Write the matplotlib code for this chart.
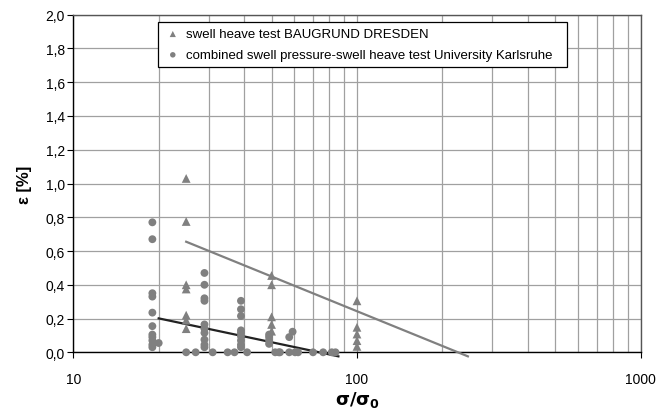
import matplotlib
matplotlib.use("Agg")
import matplotlib.pyplot as plt
from matplotlib.ticker import FixedLocator, NullFormatter, FuncFormatter, LogLocator

plt.rcParams['font.family'] = ['Liberation Sans', 'DejaVu Sans']

# Swell heave test BAUGRUND DRESDEN (triangles)
dresden_x = [25, 25, 25, 25, 25, 25, 25,
             50, 50, 50, 50, 50,
             100, 100, 100, 100, 100]
dresden_y = [1.03, 0.775, 0.40, 0.375, 0.22, 0.19, 0.14,
             0.455, 0.40, 0.21, 0.165, 0.125,
             0.305, 0.148, 0.108, 0.069, 0.035]

# Combined swell pressure-swell heave test University Karlsruhe (circles)
karlsruhe_x = [19, 19, 19, 19, 19, 19, 19, 19, 19, 19, 19,
               20, 25, 27,
               29, 29, 29, 29, 29, 29, 29, 29, 29, 29,
               31, 35, 37,
               39, 39, 39, 39, 39, 39, 39, 39, 39,
               41,
               49, 49, 49, 49,
               51.5, 53, 53.5,
               57.7, 57.7, 59.3, 60.5, 62,
               70, 76, 81.5, 84]
karlsruhe_y = [0.77, 0.67, 0.35, 0.33, 0.235, 0.155, 0.105, 0.09, 0.07, 0.045, 0.03,
               0.055, 0.0, 0.0,
               0.47, 0.40, 0.32, 0.305, 0.165, 0.14, 0.115, 0.075, 0.045, 0.03,
               0.0, 0.0, 0.0,
               0.305, 0.255, 0.215, 0.13, 0.115, 0.095, 0.07, 0.045, 0.03,
               0.0,
               0.105, 0.09, 0.07, 0.05,
               0.0, 0.0, 0.0,
               0.09, 0.0, 0.122, 0.0, 0.0,
               0.0, 0.0, 0.0, 0.0]

# Regression lines (end points)
dresden_fit_x = [25, 246]
dresden_fit_y = [0.655, -0.024]
karlsruhe_fit_x = [20, 86]
karlsruhe_fit_y = [0.201, -0.024]

y_ticks = [0.0, 0.2, 0.4, 0.6, 0.8, 1.0, 1.2, 1.4, 1.6, 1.8, 2.0]
x_ticks = [10, 100, 1000]

fig = plt.figure(figsize=(6.59, 4.10), dpi=100)
ax = fig.add_axes([0.1112, 0.1383, 0.8610, 0.8234])

ax.set_xscale('log')
ax.set_xlim(10, 1000)
ax.set_ylim(0, 2.0)

grid_c = '#a0a0a0'
ax.xaxis.set_major_locator(FixedLocator(x_ticks))
ax.xaxis.set_minor_locator(LogLocator(base=10, subs=range(2, 10)))
ax.xaxis.set_minor_formatter(NullFormatter())
ax.xaxis.set_major_formatter(FuncFormatter(lambda v, p: f"{int(v)}"))
ax.set_yticks(y_ticks)
ax.yaxis.set_major_formatter(FuncFormatter(lambda v, p: f"{v:.1f}".replace('.', ',')))

ax.grid(True, which='major', axis='both', color=grid_c, linewidth=0.9)
ax.grid(True, which='minor', axis='x', color=grid_c, linewidth=0.9)
ax.set_axisbelow(True)

ax.tick_params(axis='x', which='minor', length=0)
ax.tick_params(axis='x', which='major', length=4, direction='out', color='black',
               labelsize=10, pad=10)
ax.tick_params(axis='y', which='major', length=4, direction='out', color='black',
               labelsize=10, pad=2)

for s in ['left', 'bottom']:
    ax.spines[s].set_color('black')
    ax.spines[s].set_linewidth(1.0)
for s in ['top', 'right']:
    ax.spines[s].set_color('#555555')
    ax.spines[s].set_linewidth(1.0)

mc = '#808080'
ax.plot(dresden_fit_x, dresden_fit_y, color='#808080', linewidth=1.6, clip_on=False, zorder=3)
ax.plot(karlsruhe_fit_x, karlsruhe_fit_y, color='#222222', linewidth=1.6, clip_on=False, zorder=3)

ax.scatter(dresden_x, dresden_y, marker='^', s=40, color=mc, edgecolors='none',
           zorder=4, clip_on=False, label='swell heave test BAUGRUND DRESDEN')
ax.scatter(karlsruhe_x, karlsruhe_y, marker='o', s=32, color=mc, edgecolors='none',
           zorder=4, clip_on=False,
           label='combined swell pressure-swell heave test University Karlsruhe')

leg = ax.legend(loc='upper left', bbox_to_anchor=(0.1498, 0.70, 0.7208, 0.2775),
                mode='expand', borderaxespad=0,
                fontsize=9.5, frameon=True, fancybox=False, framealpha=1,
                edgecolor='black', handlelength=1.3, handletextpad=0.35,
                markerscale=0.7, borderpad=0.45, labelspacing=0.65)
leg.get_frame().set_linewidth(0.9)

ax.set_ylabel('ε [%]', fontsize=12, fontweight='bold', labelpad=10)
ax.set_xlabel(r'$\mathbf{\sigma/\sigma_0}$', fontsize=13, labelpad=2)

fig.savefig('out.png', dpi=100)
